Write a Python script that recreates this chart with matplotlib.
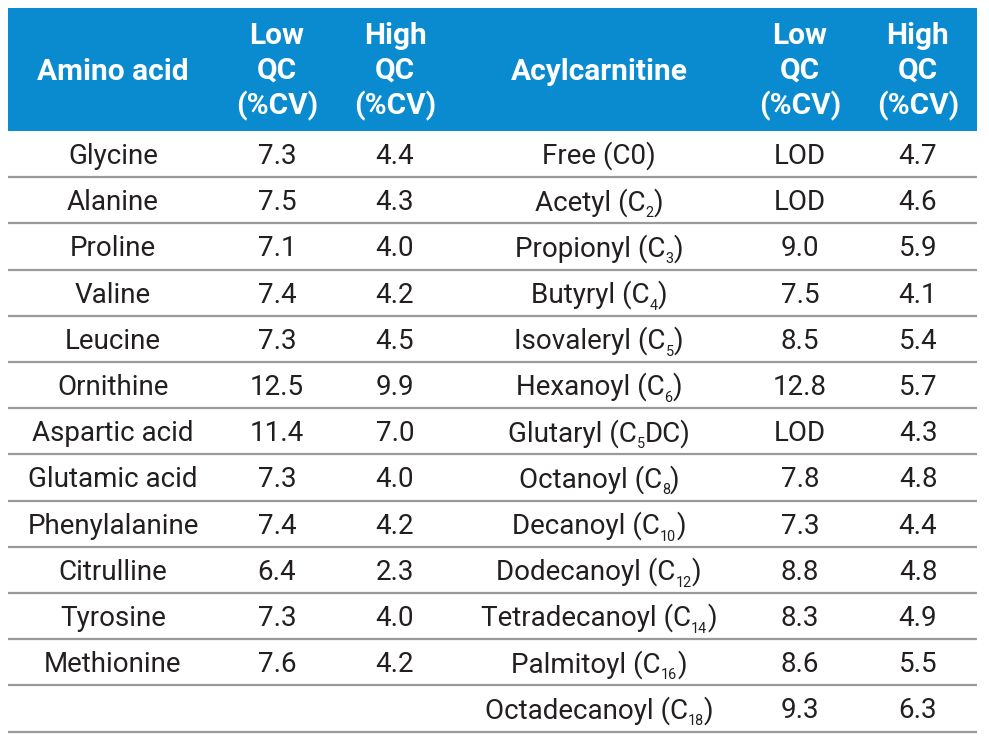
import re
import matplotlib
matplotlib.use("Agg")
import matplotlib.pyplot as plt
from matplotlib.patches import Rectangle

plt.rcParams['font.family'] = ['Roboto', 'DejaVu Sans']

# table data
amino_acids = ["Glycine", "Alanine", "Proline", "Valine", "Leucine", "Ornithine",
               "Aspartic acid", "Glutamic acid", "Phenylalanine", "Citrulline",
               "Tyrosine", "Methionine"]
amino_low = ["7.3", "7.5", "7.1", "7.4", "7.3", "12.5", "11.4", "7.3", "7.4", "6.4", "7.3", "7.6"]
amino_high = ["4.4", "4.3", "4.0", "4.2", "4.5", "9.9", "7.0", "4.0", "4.2", "2.3", "4.0", "4.2"]

# subscripts written as _{..}
acylcarnitines = ["Free (C0)", "Acetyl (C_{2})", "Propionyl (C_{3})", "Butyryl (C_{4})",
                  "Isovaleryl (C_{5})", "Hexanoyl (C_{6})", "Glutaryl (C_{5}DC)",
                  "Octanoyl (C_{8})", "Decanoyl (C_{10})", "Dodecanoyl (C_{12})",
                  "Tetradecanoyl (C_{14})", "Palmitoyl (C_{16})", "Octadecanoyl (C_{18})"]
acyl_low = ["LOD", "LOD", "9.0", "7.5", "8.5", "12.8", "LOD", "7.8", "7.3", "8.8", "8.3", "8.6", "9.3"]
acyl_high = ["4.7", "4.6", "5.9", "4.1", "5.4", "5.7", "4.3", "4.8", "4.4", "4.8", "4.9", "5.5", "6.3"]

headers = ["Amino acid", "Low\nQC\n(%CV)", "High\nQC\n(%CV)",
           "Acylcarnitine", "Low\nQC\n(%CV)", "High\nQC\n(%CV)"]

W, H = 989, 741
fig = plt.figure(figsize=(W / 100, H / 100), dpi=100)
ax = fig.add_axes([0, 0, 1, 1])
ax.set_xlim(0, W)
ax.set_ylim(H, 0)
ax.axis('off')
renderer = fig.canvas.get_renderer()

left, right = 8, 977
top, head_bot = 8, 131
row_h = 46.2
col_x = [113, 277, 395, 599, 800, 918]
blue = '#0a8bd0'
ink = '#231f20'
fs = 20
fs_head = 21.5
cap = fs * 100 / 72 * 0.711  # cap height in px


def sub_text(xc, yb, label):
    # draw a label with subscripts, centred on xc, baseline at yb
    parts = re.split(r'(_\{[^}]*\})', label)
    pieces = []
    for p in parts:
        if not p:
            continue
        if p.startswith('_{'):
            pieces.append((p[2:-1], True))
        else:
            pieces.append((p, False))
    arts = []
    total = 0
    for s, is_sub in pieces:
        t = ax.text(0, yb + (7 if is_sub else 0), s, ha='left', va='baseline', color=ink,
                    fontsize=fs * 0.52 if is_sub else fs)
        w = t.get_window_extent(renderer).width
        arts.append((t, w))
        total += w
    x = xc - total / 2
    for t, w in arts:
        t.set_x(x)
        x += w


ax.add_patch(Rectangle((left, top), right - left, head_bot - top, color=blue, lw=0))
for x, h in zip(col_x, headers):
    ax.text(x, (top + head_bot) / 2 + 2, h, ha='center', va='center', color='white',
            fontsize=fs_head, fontweight='bold', linespacing=1.3)

nrows = len(acylcarnitines)
for i in range(nrows):
    yb = head_bot + row_h * (i + 0.5) + cap / 2
    if i < len(amino_acids):
        ax.text(col_x[0], yb, amino_acids[i], ha='center', va='baseline', color=ink, fontsize=fs)
        ax.text(col_x[1], yb, amino_low[i], ha='center', va='baseline', color=ink, fontsize=fs)
        ax.text(col_x[2], yb, amino_high[i], ha='center', va='baseline', color=ink, fontsize=fs)
    sub_text(col_x[3], yb, acylcarnitines[i])
    ax.text(col_x[4], yb, acyl_low[i], ha='center', va='baseline', color=ink, fontsize=fs)
    ax.text(col_x[5], yb, acyl_high[i], ha='center', va='baseline', color=ink, fontsize=fs)
    yl = head_bot + row_h * (i + 1)
    ax.plot([left, right], [yl, yl], color='#9a9a9a', lw=1.6, solid_capstyle='butt')

fig.savefig('out.png', dpi=100, facecolor='white')
